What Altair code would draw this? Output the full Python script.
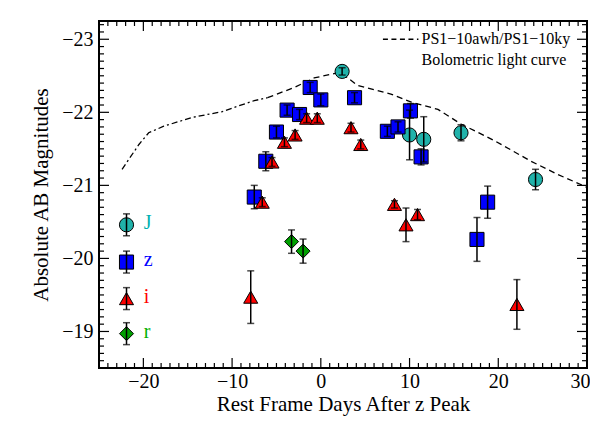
import altair as alt
import pandas as pd

# ---------------- data ----------------
J_day = [2.4, 10.0, 11.6, 15.8, 24.2]
J_mag = [-22.56, -21.69, -21.63, -21.72, -21.08]
J_err = [0.05, 0.34, 0.31, 0.11, 0.14]

z_day = [-7.5, -6.2, -5.0, -3.8, -2.4, -1.2, 0.0, 3.8, 7.5, 8.7, 10.1, 11.3, 17.6, 18.8]
z_mag = [-20.84, -21.33, -21.73, -22.03, -21.97, -22.34, -22.17, -22.20, -21.74, -21.80, -22.02, -21.39, -20.26, -20.77]
z_err = [0.16, 0.13, 0.08, 0.07, 0.07, 0.07, 0.08, 0.07, 0.07, 0.07, 0.10, 0.11, 0.30, 0.22]

i_day = [-7.9, -6.6, -5.5, -4.1, -2.9, -1.6, -0.4, 3.4, 4.5, 8.3, 9.6, 10.9, 22.1]
i_mag = [-19.47, -20.77, -21.32, -21.59, -21.69, -21.92, -21.92, -21.79, -21.56, -20.74, -20.46, -20.60, -19.37]
i_err = [0.36, 0.06, 0.06, 0.06, 0.06, 0.06, 0.06, 0.06, 0.06, 0.05, 0.23, 0.07, 0.34]

r_day = [-3.3, -2.0]
r_mag = [-20.23, -20.10]
r_err = [0.16, 0.165]

bol_early_day = [-22.4, -20.5, -19.4, -17.7, -14.5, -11.1, -9.2, -7.5, -6.0]
bol_early_mag = [-21.22, -21.56, -21.72, -21.81, -21.93, -22.01, -22.09, -22.16, -22.20]
bol_late_day = [-6.0, -3.0, -0.75, 1.1, 2.2, 4.1, 7.9, 10.2, 13.2, 15.8, 19.6, 23.7, 26.7, 29.7, 30.0]
bol_late_mag = [-22.20, -22.34, -22.47, -22.52, -22.55, -22.37, -22.25, -22.14, -22.04, -21.84,
                -21.61, -21.33, -21.15, -20.99, -20.97]

bands = ["J", "z", "i", "r"]
fill_colors = ["#20b2aa", "#0000ff", "#ff0000", "#00a000"]
text_colors = ["#00b0b0", "#0000ff", "#ff0000", "#00b000"]
shapes = ["circle", "square", "triangle-up", "diamond"]
sizes = [200, 196, 225, 196]

legend_day = [-21.9, -21.9, -21.9, -21.9]
legend_mag = [-20.46, -19.95, -19.45, -18.97]
legend_err = [0.15, 0.15, 0.15, 0.15]
legend_text_day = [-19.95, -19.95, -19.95, -19.95]

key_line_day = [7.0, 11.0]
key_line_mag = [-23.0, -23.0]
key_text_day = [11.35, 11.35]
key_text_mag = [-23.0, -22.72]
key_text = ["PS1\u221210awh/PS1\u221210ky", "Bolometric light curve"]

x_major = [-20, -10, 0, 10, 20, 30]
y_major = [-23, -22, -21, -20, -19]
x_minor = [v for v in range(-25, 31) if v % 10 != 0]
y_minor = [round(k / 10, 1) for k in range(-232, -184) if k % 10 != 0]

# ---------------- tables ----------------
def band_frame(band, days, mags, errs):
    return pd.DataFrame({
        "band": band, "day": days, "mag": mags,
        "lo": [m - e for m, e in zip(mags, errs)],
        "hi": [m + e for m, e in zip(mags, errs)],
    })

pts = pd.concat([
    band_frame("J", J_day, J_mag, J_err),
    band_frame("z", z_day, z_mag, z_err),
    band_frame("i", i_day, i_mag, i_err),
    band_frame("r", r_day, r_mag, r_err),
], ignore_index=True)

leg = pd.DataFrame({
    "band": bands, "day": legend_day, "mag": legend_mag,
    "lo": [m - e for m, e in zip(legend_mag, legend_err)],
    "hi": [m + e for m, e in zip(legend_mag, legend_err)],
    "tday": legend_text_day,
})

bol_early = pd.DataFrame({"day": bol_early_day, "mag": bol_early_mag})
bol_late = pd.DataFrame({"day": bol_late_day, "mag": bol_late_mag})
key_line = pd.DataFrame({"day": key_line_day, "mag": key_line_mag})
key_txt = pd.DataFrame({"day": key_text_day, "mag": key_text_mag, "text": key_text})
anchor = pd.DataFrame({"day": [0.0], "mag": [-21.0]})

W, H = 488, 347
MAJOR, MINOR = 10, 5
FONT = "Liberation Serif"
xscale = alt.Scale(domain=[-25, 30], nice=False, zero=False)
yscale = alt.Scale(domain=[-23.25, -18.5], reverse=True, nice=False, zero=False)

def X(field="day", axis=None):
    return alt.X(f"{field}:Q", scale=xscale, axis=axis)

def Y(field="mag", axis=None):
    return alt.Y(f"{field}:Q", scale=yscale, axis=axis)

fill_enc = alt.Fill("band:N", scale=alt.Scale(domain=bands, range=fill_colors), legend=None)
shape_enc = alt.Shape("band:N", scale=alt.Scale(domain=bands, range=shapes), legend=None)
size_enc = alt.Size("band:N", scale=alt.Scale(domain=bands, range=sizes), legend=None)

# ---------------- axes with labels (first layer, so the shared axis keeps them) ----------------
label_axes = alt.Chart(anchor).mark_point(opacity=0).encode(
    x=X(axis=alt.Axis(orient="bottom", values=x_major, format="d", ticks=False, domain=False, grid=False,
                      labelFont=FONT, labelFontSize=20, labelColor="black", labelPadding=3,
                      labelFlush=True, labelFlushOffset=3,
                      title="Rest Frame Days After z Peak", titleFont=FONT, titleFontSize=21,
                      titleFontWeight="normal", titleColor="black", titlePadding=2)),
    y=Y(axis=alt.Axis(orient="left", values=y_major, format="d", ticks=False, domain=False, grid=False,
                      labelFont=FONT, labelFontSize=20, labelColor="black", labelPadding=6, labelFlush=False,
                      title="Absolute AB Magnitudes", titleFont=FONT, titleFontSize=21,
                      titleFontWeight="normal", titleColor="black", titlePadding=10)),
)

# ---------------- data layers ----------------
line_early = alt.Chart(bol_early).mark_line(
    color="black", strokeWidth=1.3, strokeDash=[6, 3, 2, 3]
).encode(x=X(), y=Y())
line_late = alt.Chart(bol_late).mark_line(
    color="black", strokeWidth=1.3, strokeDash=[6, 4]
).encode(x=X(), y=Y())

def marker_layers(df):
    p = alt.Chart(df).mark_point(filled=True, stroke="black", strokeWidth=1, opacity=1).encode(
        x=X(), y=Y(), fill=fill_enc, shape=shape_enc, size=size_enc)
    bar = alt.Chart(df).mark_rule(color="black", strokeWidth=1.5).encode(
        x=X(), y=Y("lo"), y2="hi:Q")
    cap_lo = alt.Chart(df).mark_tick(color="black", thickness=1.5, size=7, orient="horizontal").encode(
        x=X(), y=Y("lo"))
    cap_hi = alt.Chart(df).mark_tick(color="black", thickness=1.5, size=7, orient="horizontal").encode(
        x=X(), y=Y("hi"))
    return [p, bar, cap_lo, cap_hi]

legend_text = alt.Chart(leg).mark_text(
    font=FONT, fontSize=20, align="left", baseline="alphabetic", dy=4
).encode(
    x=X("tday"), y=Y(), text="band:N",
    color=alt.Color("band:N", scale=alt.Scale(domain=bands, range=text_colors), legend=None),
)

key_l = alt.Chart(key_line).mark_line(color="black", strokeWidth=1.3, strokeDash=[5, 3.5]).encode(
    x=X(), y=Y())
key_t = alt.Chart(key_txt).mark_text(
    font=FONT, fontSize=16, align="left", baseline="middle", color="black"
).encode(x=X(), y=Y(), text="text:N")

# ---------------- inward ticks on all four sides ----------------
def xticks(values, length):
    df = pd.DataFrame({"day": values})
    bottom = alt.Chart(df).mark_rule(color="black", strokeWidth=1.2).encode(
        x=X(), y=alt.value(H), y2=alt.value(H - length))
    top = alt.Chart(df).mark_rule(color="black", strokeWidth=1.2).encode(
        x=X(), y=alt.value(0), y2=alt.value(length))
    return [bottom, top]

def yticks(values, length):
    df = pd.DataFrame({"mag": values})
    left = alt.Chart(df).mark_rule(color="black", strokeWidth=1.2).encode(
        y=Y(), x=alt.value(0), x2=alt.value(length))
    right = alt.Chart(df).mark_rule(color="black", strokeWidth=1.2).encode(
        y=Y(), x=alt.value(W), x2=alt.value(W - length))
    return [left, right]

tick_layers = xticks(x_major, MAJOR) + xticks(x_minor, MINOR) + yticks(y_major, MAJOR) + yticks(y_minor, MINOR)

layers = [label_axes, line_early, line_late] + marker_layers(pts) + marker_layers(leg) + [
    legend_text, key_l, key_t] + tick_layers

chart = alt.layer(*layers).resolve_axis(x="independent", y="independent").properties(
    width=W, height=H,
    padding={"left": 91, "top": 13, "right": 3, "bottom": 53},
    autosize=alt.AutoSizeParams(type="none"),
    background="white",
).configure_view(stroke="black", strokeWidth=2)

chart.save("out.html", embed_options={"renderer": "svg", "actions": False})
